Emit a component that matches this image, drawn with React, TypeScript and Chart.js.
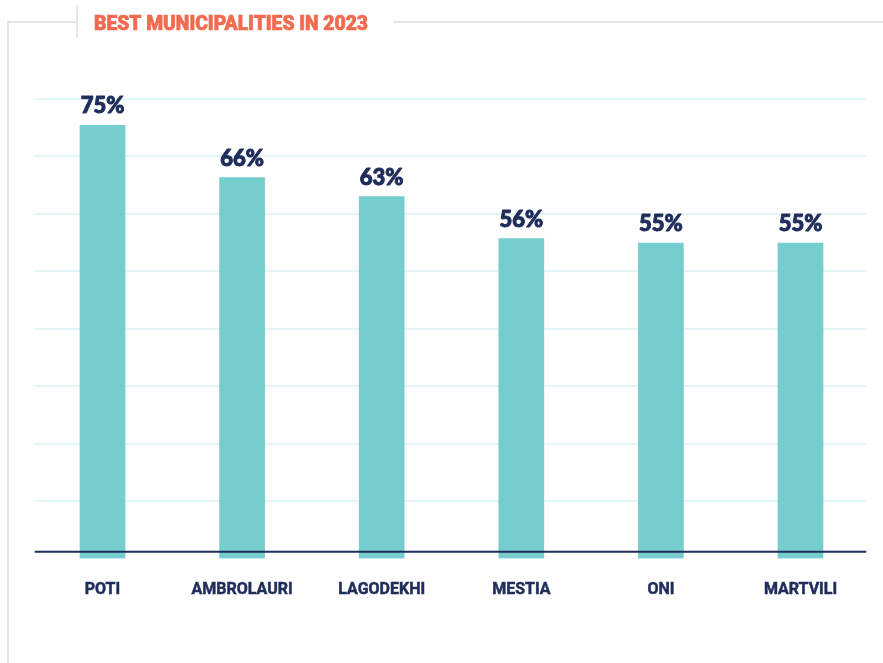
import React, { useEffect, useRef } from "react";
import { Chart, registerables } from "chart.js";

Chart.register(...registerables);

const title = "BEST MUNICIPALITIES IN 2023";
const categories = ["POTI", "AMBROLAURI", "LAGODEKHI", "MESTIA", "ONI", "MARTVILI"];
const shares = [75.4, 66.3, 63.0, 55.7, 54.9, 54.9];
const gridValues = [10, 20, 30, 40, 50, 60, 70, 80];
const axisLineValue = 1.15;

const NAVY = "#1f2d5b";
const TEAL = "#76cdce";
const CORAL = "#f26b50";
const FRAME = "#e6e6e6";
const GRID = "#e4f5f5";

const decorPlugin = {
  id: "decor",
  beforeDraw(chart: any) {
    const { ctx, width } = chart;
    ctx.save();
    ctx.strokeStyle = FRAME;
    ctx.lineWidth = 2;
    ctx.beginPath();
    ctx.moveTo(8, chart.height);
    ctx.lineTo(8, 22);
    ctx.lineTo(77, 22);
    ctx.moveTo(77, 5);
    ctx.lineTo(77, 38);
    ctx.moveTo(393, 22);
    ctx.lineTo(width, 22);
    ctx.stroke();

    ctx.font = "900 21px Roboto";
    ctx.fillStyle = CORAL;
    ctx.strokeStyle = CORAL;
    ctx.lineWidth = 0.7;
    ctx.textBaseline = "alphabetic";
    ctx.textAlign = "left";
    const w = ctx.measureText(title).width;
    const target = 274;
    ctx.translate(94, 29.5);
    ctx.scale(target / w, 1);
    ctx.fillText(title, 0, 0);
    ctx.strokeText(title, 0, 0);
    ctx.restore();
  },
  beforeDatasetsDraw(chart: any) {
    const { ctx, chartArea } = chart;
    const y = chart.scales.y;
    ctx.save();
    ctx.strokeStyle = GRID;
    ctx.lineWidth = 2;
    gridValues.forEach((v) => {
      const py = Math.round(y.getPixelForValue(v));
      ctx.beginPath();
      ctx.moveTo(chartArea.left + 2, py);
      ctx.lineTo(chartArea.right - 4, py);
      ctx.stroke();
    });
    ctx.restore();
  },
  afterDatasetsDraw(chart: any) {
    const { ctx, chartArea } = chart;
    const y = chart.scales.y;
    ctx.save();
    const ay = y.getPixelForValue(axisLineValue);
    ctx.strokeStyle = NAVY;
    ctx.lineWidth = 2;
    ctx.beginPath();
    ctx.moveTo(chartArea.left + 2, ay);
    ctx.lineTo(chartArea.right - 4, ay);
    ctx.stroke();

    const meta = chart.getDatasetMeta(0);
    ctx.font = "900 22px Lato";
    ctx.fillStyle = NAVY;
    ctx.strokeStyle = NAVY;
    ctx.lineWidth = 1;
    ctx.lineJoin = "round";
    ctx.textAlign = "center";
    ctx.textBaseline = "alphabetic";
    meta.data.forEach((bar: any, i: number) => {
      const t = Math.round(shares[i]) + "%";
      ctx.fillText(t, bar.x, bar.y - 12);
      ctx.strokeText(t, bar.x, bar.y - 12);
    });
    ctx.restore();
  },
};

export default function App() {
  const ref = useRef<HTMLCanvasElement>(null);
  useEffect(() => {
    if (!ref.current) return;
    const chart = new Chart(ref.current, {
      type: "bar",
      data: {
        labels: categories,
        datasets: [
          {
            data: shares,
            backgroundColor: TEAL,
            borderWidth: 0,
            barThickness: 45,
          },
        ],
      },
      options: {
        responsive: false,
        animation: false,
        devicePixelRatio: 1,
        layout: { padding: { left: 32.7, right: 12.7, top: 99, bottom: 41.4 } },
        plugins: {
          legend: { display: false },
          tooltip: { enabled: false },
          title: { display: false },
        },
        scales: {
          x: {
            grid: { display: false, drawTicks: false },
            border: { display: false },
            ticks: {
              padding: 22,
              color: NAVY,
              textStrokeColor: NAVY,
              textStrokeWidth: 0.5,
              font: { family: "Roboto", weight: "bold", size: 16 },
              maxRotation: 0,
              autoSkip: false,
            },
          },
          y: {
            min: 0,
            max: 80,
            grid: { display: false, drawTicks: false },
            border: { display: false },
            ticks: { display: false, stepSize: 10 },
          },
        },
      },
      plugins: [decorPlugin],
    });
    return () => chart.destroy();
  }, []);
  return (
    <div style={{ position: "fixed", left: 0, top: 0, width: 883, height: 663, background: "#fff" }}>
      <canvas ref={ref} width={883} height={663} style={{ display: "block" }} />
    </div>
  );
}
